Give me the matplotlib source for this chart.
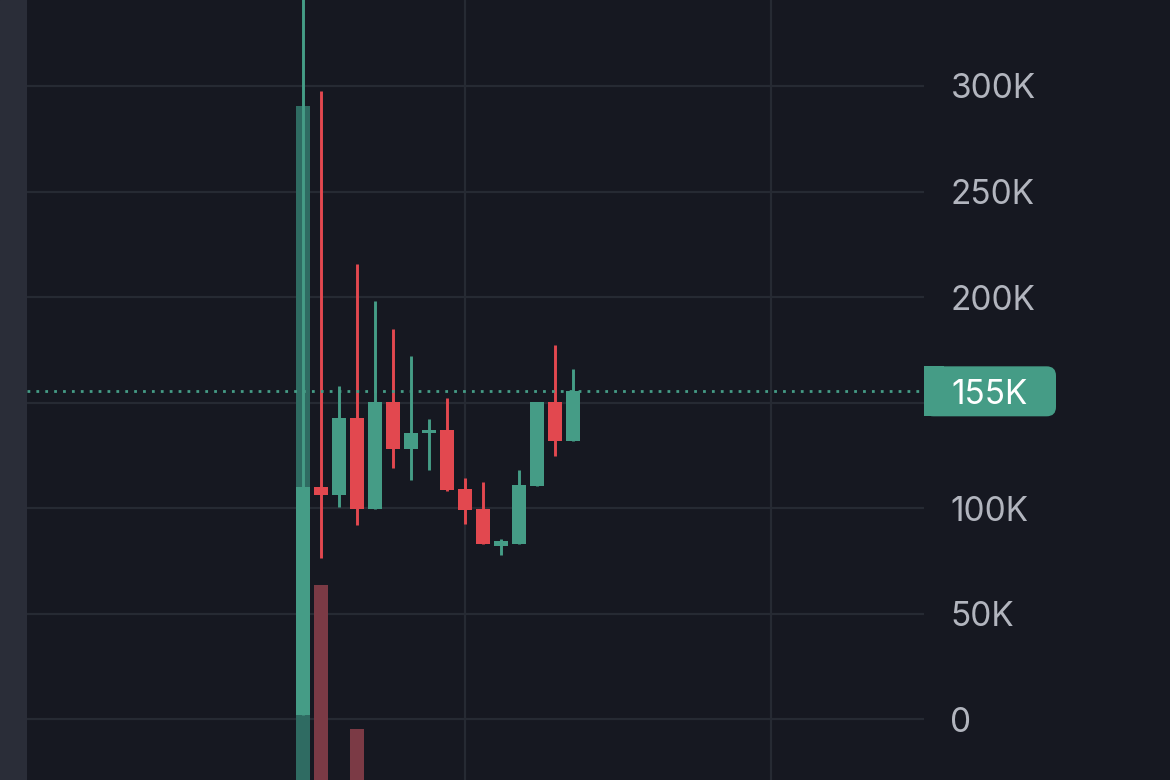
import matplotlib
matplotlib.use("Agg")
import matplotlib.pyplot as plt
from matplotlib.patches import Rectangle, FancyBboxPatch
from matplotlib.transforms import Affine2D, blended_transform_factory

# daily candles, prices in thousands
opens = [1.9, 110.3, 106.3, 142.7, 99.7, 150.2, 128.2, 135.6, 137.2, 109.0, 99.7, 82.3, 83.1, 110.6, 150.2, 132.0]
highs = [420.0, 297.8, 158.0, 215.5, 198.1, 184.7, 172.3, 142.3, 152.1, 114.2, 112.4, 85.3, 118.2, 150.2, 177.5, 166.1]
lows = [1.9, 76.3, 100.8, 92.1, 99.7, 119.0, 113.5, 118.2, 108.0, 92.6, 83.1, 77.9, 83.1, 110.6, 124.8, 132.0]
closes = [110.2, 106.3, 142.7, 99.7, 150.2, 128.2, 135.6, 137.2, 108.7, 99.2, 83.1, 84.5, 111.1, 150.2, 132.0, 155.4]
volumes = [694, 215, 12, 71, 9, 14, 6, 8, 5, 10, 7, 4, 11, 6, 9, 12]

price_ticks = [0, 50, 100, 150, 200, 250, 300]
time_grid = [9, 26]

BG = "#161821"
GRID = "#262a33"
UP = "#459c86"
DOWN = "#e2484f"
UP_VOL = "#2f6b62"
DOWN_VOL = "#7b3a45"
TXT = "#b2b5be"

plt.rcParams["font.family"] = ["Inter", "DejaVu Sans"]

W, H = 1170, 780
fig = plt.figure(figsize=(W / 100, H / 100), dpi=100)
fig.patch.set_facecolor(BG)
fig.add_artist(Rectangle((0, 0), 27 / W, 1, transform=fig.transFigure, color="#2a2d38", zorder=0))

ax = fig.add_axes([27 / W, 0, (924 - 27) / W, 1])
ax.set_facecolor(BG)
for s in ax.spines.values():
    s.set_visible(False)

ax.set_xlim(-15.33, 34.5)
ax.set_ylim(-28.65, 340.7)

last = closes[-1]

# grid; the tick hidden under the last-price tag gets no label
ax.set_axisbelow(True)
ax.set_yticks(price_ticks)
ax.set_yticklabels(["" if abs(t - last) < 20 else (f"{t}K" if t else "0") for t in price_ticks])
ax.set_xticks(time_grid)
ax.set_xticklabels([])
ax.grid(True, color=GRID, lw=1.6)
ax.yaxis.tick_right()
ax.tick_params(axis="y", length=0, pad=19, labelsize=24, labelcolor=TXT)
ax.tick_params(axis="x", length=0)

# volume overlay on its own scale (pane bottom sits below the crop)
vol_lo, vol_hi = 20, 800
yv = Affine2D().scale(1, 1 / (vol_hi - vol_lo)).translate(0, -vol_lo / (vol_hi - vol_lo)) + ax.transAxes
vtrans = blended_transform_factory(ax.transData, yv)

bw = 0.81
for i in range(len(opens)):
    o, h, l, c = opens[i], highs[i], lows[i], closes[i]
    up = c >= o
    ax.add_patch(Rectangle((i - bw / 2, 0), bw, volumes[i], transform=vtrans,
                           color=UP_VOL if up else DOWN_VOL, zorder=1, lw=0))
    col = UP if up else DOWN
    ax.vlines(i, l, h, color=col, lw=2.1, zorder=2)
    ax.bar(i, abs(c - o), bottom=min(o, c), width=bw, color=col, zorder=3, lw=0)

# last price line + label
ax.axhline(last, color=UP, lw=2, linestyle=(0, (1, 2.2)), zorder=4)

yf = fig.transFigure.inverted().transform(ax.transData.transform((0, last)))[1]
bh = 50 / H
fig.add_artist(FancyBboxPatch((924 / W, yf - bh / 2), 132 / W, bh,
                              boxstyle="round,pad=0,rounding_size=0.008",
                              transform=fig.transFigure, color=UP, lw=0, mutation_aspect=W / H))
fig.add_artist(Rectangle((924 / W, yf - bh / 2), 20 / W, bh, transform=fig.transFigure, color=UP, lw=0))
fig.text(951 / W, yf, f"{round(last)}K", color="white", fontsize=24, ha="left", va="center_baseline")

fig.savefig("out.png", dpi=100, facecolor=BG)
